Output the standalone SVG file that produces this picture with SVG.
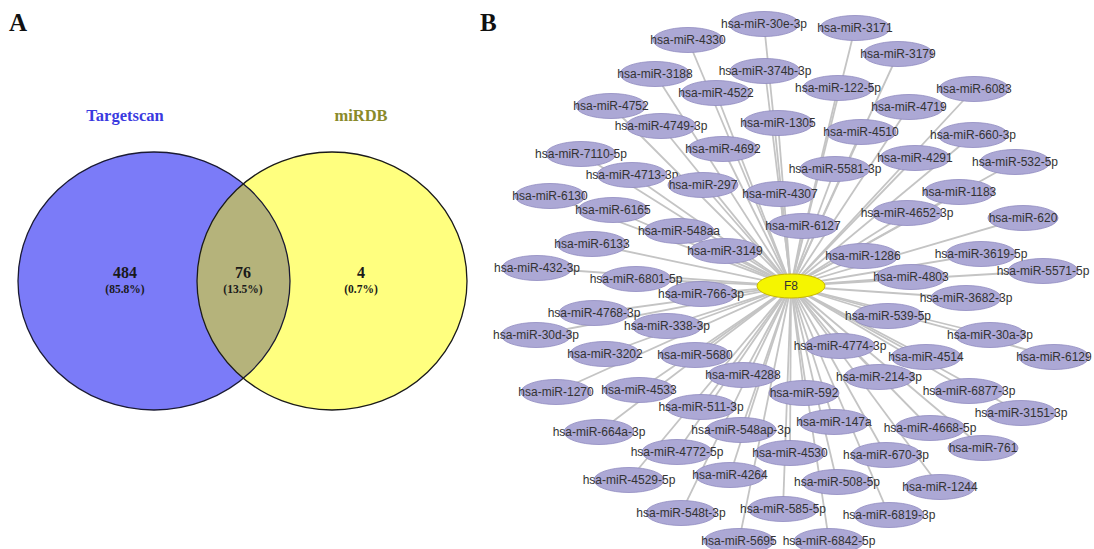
<svg xmlns="http://www.w3.org/2000/svg" width="1094" height="549" viewBox="0 0 1094 549">
<style>
.pl{font-family:"Liberation Serif","Times New Roman",serif;font-weight:bold;font-size:25px;fill:#111}
.vt{font-family:"Liberation Serif","Times New Roman",serif;font-weight:bold;text-anchor:middle}
.num{font-size:16px;fill:#1a1a1a}
.pct{font-size:11.5px;fill:#1a1a1a}
.mi{fill:#aca8d5;stroke:#8e89bf;stroke-width:0.8}
.lb{font-family:"Liberation Sans",Arial,sans-serif;font-size:12px;fill:#333;text-anchor:middle}
.ed line{stroke:#c4c4c4;stroke-width:1.8}
</style>
<defs>
<clipPath id="clipL"><ellipse cx="154" cy="281" rx="136" ry="129"/></clipPath>
</defs>
<rect width="1094" height="549" fill="#fff"/>
<text class="pl" x="9" y="31">A</text>
<text class="pl" x="480" y="31">B</text>
<g id="venn">
<ellipse cx="154" cy="281" rx="136" ry="129" fill="#7b7bf8"/>
<ellipse cx="332" cy="281" rx="135" ry="129" fill="#ffff7f"/>
<ellipse cx="332" cy="281" rx="135" ry="129" fill="#b5b37b" clip-path="url(#clipL)"/>
<ellipse cx="154" cy="281" rx="136" ry="129" fill="none" stroke="#1a1a33" stroke-width="1.3"/>
<ellipse cx="332" cy="281" rx="135" ry="129" fill="none" stroke="#1a1a1a" stroke-width="1.3"/>
<text class="vt" x="125" y="121" font-size="16.5" fill="#3a3ae0">Targetscan</text>
<text class="vt" x="361" y="121" font-size="16.5" fill="#8a8a2a">miRDB</text>
<text class="vt num" x="125" y="278">484</text>
<text class="vt pct" x="125" y="293">(85.8%)</text>
<text class="vt num" x="243" y="278">76</text>
<text class="vt pct" x="243" y="293">(13.5%)</text>
<text class="vt num" x="361" y="278">4</text>
<text class="vt pct" x="361" y="293">(0.7%)</text>
</g>
<g id="connectors" class="ed">
<line x1="791" y1="286" x2="688" y2="40"/>
<line x1="791" y1="286" x2="764" y2="24"/>
<line x1="791" y1="286" x2="855" y2="28"/>
<line x1="791" y1="286" x2="898" y2="54"/>
<line x1="791" y1="286" x2="655" y2="74"/>
<line x1="791" y1="286" x2="765" y2="71"/>
<line x1="791" y1="286" x2="716" y2="93"/>
<line x1="791" y1="286" x2="838" y2="88"/>
<line x1="791" y1="286" x2="974" y2="89"/>
<line x1="791" y1="286" x2="611" y2="106"/>
<line x1="791" y1="286" x2="909" y2="107"/>
<line x1="791" y1="286" x2="661" y2="126"/>
<line x1="791" y1="286" x2="778" y2="123"/>
<line x1="791" y1="286" x2="861" y2="132"/>
<line x1="791" y1="286" x2="973" y2="135"/>
<line x1="791" y1="286" x2="581" y2="154"/>
<line x1="791" y1="286" x2="723" y2="149"/>
<line x1="791" y1="286" x2="915" y2="158"/>
<line x1="791" y1="286" x2="1015" y2="162"/>
<line x1="791" y1="286" x2="632" y2="175"/>
<line x1="791" y1="286" x2="835" y2="169"/>
<line x1="791" y1="286" x2="703" y2="185"/>
<line x1="791" y1="286" x2="780" y2="194"/>
<line x1="791" y1="286" x2="959" y2="192"/>
<line x1="791" y1="286" x2="550" y2="196"/>
<line x1="791" y1="286" x2="613" y2="210"/>
<line x1="791" y1="286" x2="907" y2="213"/>
<line x1="791" y1="286" x2="679" y2="231"/>
<line x1="791" y1="286" x2="803" y2="226"/>
<line x1="791" y1="286" x2="1023" y2="218"/>
<line x1="791" y1="286" x2="592" y2="244"/>
<line x1="791" y1="286" x2="725" y2="251"/>
<line x1="791" y1="286" x2="863" y2="256"/>
<line x1="791" y1="286" x2="981" y2="254"/>
<line x1="791" y1="286" x2="537" y2="268"/>
<line x1="791" y1="286" x2="636" y2="279"/>
<line x1="791" y1="286" x2="911" y2="277"/>
<line x1="791" y1="286" x2="1043" y2="271"/>
<line x1="791" y1="286" x2="701" y2="294"/>
<line x1="791" y1="286" x2="966" y2="298"/>
<line x1="791" y1="286" x2="594" y2="313"/>
<line x1="791" y1="286" x2="888" y2="316"/>
<line x1="791" y1="286" x2="667" y2="326"/>
<line x1="791" y1="286" x2="990" y2="335"/>
<line x1="791" y1="286" x2="536" y2="335"/>
<line x1="791" y1="286" x2="840" y2="346"/>
<line x1="791" y1="286" x2="605" y2="354"/>
<line x1="791" y1="286" x2="695" y2="355"/>
<line x1="791" y1="286" x2="926" y2="357"/>
<line x1="791" y1="286" x2="1054" y2="357"/>
<line x1="791" y1="286" x2="556" y2="392"/>
<line x1="791" y1="286" x2="639" y2="390"/>
<line x1="791" y1="286" x2="743" y2="375"/>
<line x1="791" y1="286" x2="879" y2="377"/>
<line x1="791" y1="286" x2="804" y2="393"/>
<line x1="791" y1="286" x2="969" y2="391"/>
<line x1="791" y1="286" x2="701" y2="407"/>
<line x1="791" y1="286" x2="1021" y2="413"/>
<line x1="791" y1="286" x2="599" y2="432"/>
<line x1="791" y1="286" x2="741" y2="430"/>
<line x1="791" y1="286" x2="834" y2="422"/>
<line x1="791" y1="286" x2="930" y2="428"/>
<line x1="791" y1="286" x2="677" y2="452"/>
<line x1="791" y1="286" x2="790" y2="453"/>
<line x1="791" y1="286" x2="886" y2="455"/>
<line x1="791" y1="286" x2="983" y2="448"/>
<line x1="791" y1="286" x2="629" y2="480"/>
<line x1="791" y1="286" x2="730" y2="475"/>
<line x1="791" y1="286" x2="837" y2="482"/>
<line x1="791" y1="286" x2="940" y2="487"/>
<line x1="791" y1="286" x2="681" y2="513"/>
<line x1="791" y1="286" x2="783" y2="509"/>
<line x1="791" y1="286" x2="889" y2="515"/>
<line x1="791" y1="286" x2="739" y2="541"/>
<line x1="791" y1="286" x2="829" y2="541"/>
</g>
<g id="n4330"><ellipse class="mi" cx="688" cy="40" rx="35" ry="12.5"/><text class="lb" x="688" y="44">hsa-miR-4330</text></g>
<g id="n30e3p"><ellipse class="mi" cx="764" cy="24" rx="35" ry="12.5"/><text class="lb" x="764" y="28">hsa-miR-30e-3p</text></g>
<g id="n3171"><ellipse class="mi" cx="855" cy="28" rx="35" ry="12.5"/><text class="lb" x="855" y="32">hsa-miR-3171</text></g>
<g id="n3179"><ellipse class="mi" cx="898" cy="54" rx="35" ry="12.5"/><text class="lb" x="898" y="58">hsa-miR-3179</text></g>
<g id="n3188"><ellipse class="mi" cx="655" cy="74" rx="35" ry="12.5"/><text class="lb" x="655" y="78">hsa-miR-3188</text></g>
<g id="n374b3p"><ellipse class="mi" cx="765" cy="71" rx="35" ry="12.5"/><text class="lb" x="765" y="75">hsa-miR-374b-3p</text></g>
<g id="n4522"><ellipse class="mi" cx="716" cy="93" rx="35" ry="12.5"/><text class="lb" x="716" y="97">hsa-miR-4522</text></g>
<g id="n1225p"><ellipse class="mi" cx="838" cy="88" rx="35" ry="12.5"/><text class="lb" x="838" y="92">hsa-miR-122-5p</text></g>
<g id="n6083"><ellipse class="mi" cx="974" cy="89" rx="35" ry="12.5"/><text class="lb" x="974" y="93">hsa-miR-6083</text></g>
<g id="n4752"><ellipse class="mi" cx="611" cy="106" rx="35" ry="12.5"/><text class="lb" x="611" y="110">hsa-miR-4752</text></g>
<g id="n4719"><ellipse class="mi" cx="909" cy="107" rx="35" ry="12.5"/><text class="lb" x="909" y="111">hsa-miR-4719</text></g>
<g id="n47493p"><ellipse class="mi" cx="661" cy="126" rx="35" ry="12.5"/><text class="lb" x="661" y="130">hsa-miR-4749-3p</text></g>
<g id="n1305"><ellipse class="mi" cx="778" cy="123" rx="35" ry="12.5"/><text class="lb" x="778" y="127">hsa-miR-1305</text></g>
<g id="n4510"><ellipse class="mi" cx="861" cy="132" rx="35" ry="12.5"/><text class="lb" x="861" y="136">hsa-miR-4510</text></g>
<g id="n6603p"><ellipse class="mi" cx="973" cy="135" rx="35" ry="12.5"/><text class="lb" x="973" y="139">hsa-miR-660-3p</text></g>
<g id="n71105p"><ellipse class="mi" cx="581" cy="154" rx="35" ry="12.5"/><text class="lb" x="581" y="158">hsa-miR-7110-5p</text></g>
<g id="n4692"><ellipse class="mi" cx="723" cy="149" rx="35" ry="12.5"/><text class="lb" x="723" y="153">hsa-miR-4692</text></g>
<g id="n4291"><ellipse class="mi" cx="915" cy="158" rx="35" ry="12.5"/><text class="lb" x="915" y="162">hsa-miR-4291</text></g>
<g id="n5325p"><ellipse class="mi" cx="1015" cy="162" rx="35" ry="12.5"/><text class="lb" x="1015" y="166">hsa-miR-532-5p</text></g>
<g id="n47133p"><ellipse class="mi" cx="632" cy="175" rx="35" ry="12.5"/><text class="lb" x="632" y="179">hsa-miR-4713-3p</text></g>
<g id="n55813p"><ellipse class="mi" cx="835" cy="169" rx="35" ry="12.5"/><text class="lb" x="835" y="173">hsa-miR-5581-3p</text></g>
<g id="n297"><ellipse class="mi" cx="703" cy="185" rx="35" ry="12.5"/><text class="lb" x="703" y="189">hsa-miR-297</text></g>
<g id="n4307"><ellipse class="mi" cx="780" cy="194" rx="35" ry="12.5"/><text class="lb" x="780" y="198">hsa-miR-4307</text></g>
<g id="n1183"><ellipse class="mi" cx="959" cy="192" rx="35" ry="12.5"/><text class="lb" x="959" y="196">hsa-miR-1183</text></g>
<g id="n6130"><ellipse class="mi" cx="550" cy="196" rx="35" ry="12.5"/><text class="lb" x="550" y="200">hsa-miR-6130</text></g>
<g id="n6165"><ellipse class="mi" cx="613" cy="210" rx="35" ry="12.5"/><text class="lb" x="613" y="214">hsa-miR-6165</text></g>
<g id="n46523p"><ellipse class="mi" cx="907" cy="213" rx="35" ry="12.5"/><text class="lb" x="907" y="217">hsa-miR-4652-3p</text></g>
<g id="n548aa"><ellipse class="mi" cx="679" cy="231" rx="35" ry="12.5"/><text class="lb" x="679" y="235">hsa-miR-548aa</text></g>
<g id="n6127"><ellipse class="mi" cx="803" cy="226" rx="35" ry="12.5"/><text class="lb" x="803" y="230">hsa-miR-6127</text></g>
<g id="n620"><ellipse class="mi" cx="1023" cy="218" rx="35" ry="12.5"/><text class="lb" x="1023" y="222">hsa-miR-620</text></g>
<g id="n6133"><ellipse class="mi" cx="592" cy="244" rx="35" ry="12.5"/><text class="lb" x="592" y="248">hsa-miR-6133</text></g>
<g id="n3149"><ellipse class="mi" cx="725" cy="251" rx="35" ry="12.5"/><text class="lb" x="725" y="255">hsa-miR-3149</text></g>
<g id="n1286"><ellipse class="mi" cx="863" cy="256" rx="35" ry="12.5"/><text class="lb" x="863" y="260">hsa-miR-1286</text></g>
<g id="n36195p"><ellipse class="mi" cx="981" cy="254" rx="35" ry="12.5"/><text class="lb" x="981" y="258">hsa-miR-3619-5p</text></g>
<g id="n4323p"><ellipse class="mi" cx="537" cy="268" rx="35" ry="12.5"/><text class="lb" x="537" y="272">hsa-miR-432-3p</text></g>
<g id="n68015p"><ellipse class="mi" cx="636" cy="279" rx="35" ry="12.5"/><text class="lb" x="636" y="283">hsa-miR-6801-5p</text></g>
<g id="n4803"><ellipse class="mi" cx="911" cy="277" rx="35" ry="12.5"/><text class="lb" x="911" y="281">hsa-miR-4803</text></g>
<g id="n55715p"><ellipse class="mi" cx="1043" cy="271" rx="35" ry="12.5"/><text class="lb" x="1043" y="275">hsa-miR-5571-5p</text></g>
<g id="n7663p"><ellipse class="mi" cx="701" cy="294" rx="35" ry="12.5"/><text class="lb" x="701" y="298">hsa-miR-766-3p</text></g>
<g id="n36823p"><ellipse class="mi" cx="966" cy="298" rx="35" ry="12.5"/><text class="lb" x="966" y="302">hsa-miR-3682-3p</text></g>
<g id="n47683p"><ellipse class="mi" cx="594" cy="313" rx="35" ry="12.5"/><text class="lb" x="594" y="317">hsa-miR-4768-3p</text></g>
<g id="n5395p"><ellipse class="mi" cx="888" cy="316" rx="35" ry="12.5"/><text class="lb" x="888" y="320">hsa-miR-539-5p</text></g>
<g id="n3383p"><ellipse class="mi" cx="667" cy="326" rx="35" ry="12.5"/><text class="lb" x="667" y="330">hsa-miR-338-3p</text></g>
<g id="n30a3p"><ellipse class="mi" cx="990" cy="335" rx="35" ry="12.5"/><text class="lb" x="990" y="339">hsa-miR-30a-3p</text></g>
<g id="n30d3p"><ellipse class="mi" cx="536" cy="335" rx="35" ry="12.5"/><text class="lb" x="536" y="339">hsa-miR-30d-3p</text></g>
<g id="n47743p"><ellipse class="mi" cx="840" cy="346" rx="35" ry="12.5"/><text class="lb" x="840" y="350">hsa-miR-4774-3p</text></g>
<g id="n3202"><ellipse class="mi" cx="605" cy="354" rx="35" ry="12.5"/><text class="lb" x="605" y="358">hsa-miR-3202</text></g>
<g id="n5680"><ellipse class="mi" cx="695" cy="355" rx="35" ry="12.5"/><text class="lb" x="695" y="359">hsa-miR-5680</text></g>
<g id="n4514"><ellipse class="mi" cx="926" cy="357" rx="35" ry="12.5"/><text class="lb" x="926" y="361">hsa-miR-4514</text></g>
<g id="n6129"><ellipse class="mi" cx="1054" cy="357" rx="35" ry="12.5"/><text class="lb" x="1054" y="361">hsa-miR-6129</text></g>
<g id="n1270"><ellipse class="mi" cx="556" cy="392" rx="35" ry="12.5"/><text class="lb" x="556" y="396">hsa-miR-1270</text></g>
<g id="n4533"><ellipse class="mi" cx="639" cy="390" rx="35" ry="12.5"/><text class="lb" x="639" y="394">hsa-miR-4533</text></g>
<g id="n4288"><ellipse class="mi" cx="743" cy="375" rx="35" ry="12.5"/><text class="lb" x="743" y="379">hsa-miR-4288</text></g>
<g id="n2143p"><ellipse class="mi" cx="879" cy="377" rx="35" ry="12.5"/><text class="lb" x="879" y="381">hsa-miR-214-3p</text></g>
<g id="n592"><ellipse class="mi" cx="804" cy="393" rx="35" ry="12.5"/><text class="lb" x="804" y="397">hsa-miR-592</text></g>
<g id="n68773p"><ellipse class="mi" cx="969" cy="391" rx="35" ry="12.5"/><text class="lb" x="969" y="395">hsa-miR-6877-3p</text></g>
<g id="n5113p"><ellipse class="mi" cx="701" cy="407" rx="35" ry="12.5"/><text class="lb" x="701" y="411">hsa-miR-511-3p</text></g>
<g id="n31513p"><ellipse class="mi" cx="1021" cy="413" rx="35" ry="12.5"/><text class="lb" x="1021" y="417">hsa-miR-3151-3p</text></g>
<g id="n664a3p"><ellipse class="mi" cx="599" cy="432" rx="35" ry="12.5"/><text class="lb" x="599" y="436">hsa-miR-664a-3p</text></g>
<g id="n548ap3p"><ellipse class="mi" cx="741" cy="430" rx="35" ry="12.5"/><text class="lb" x="741" y="434">hsa-miR-548ap-3p</text></g>
<g id="n147a"><ellipse class="mi" cx="834" cy="422" rx="35" ry="12.5"/><text class="lb" x="834" y="426">hsa-miR-147a</text></g>
<g id="n46685p"><ellipse class="mi" cx="930" cy="428" rx="35" ry="12.5"/><text class="lb" x="930" y="432">hsa-miR-4668-5p</text></g>
<g id="n47725p"><ellipse class="mi" cx="677" cy="452" rx="35" ry="12.5"/><text class="lb" x="677" y="456">hsa-miR-4772-5p</text></g>
<g id="n4530"><ellipse class="mi" cx="790" cy="453" rx="35" ry="12.5"/><text class="lb" x="790" y="457">hsa-miR-4530</text></g>
<g id="n6703p"><ellipse class="mi" cx="886" cy="455" rx="35" ry="12.5"/><text class="lb" x="886" y="459">hsa-miR-670-3p</text></g>
<g id="n761"><ellipse class="mi" cx="983" cy="448" rx="35" ry="12.5"/><text class="lb" x="983" y="452">hsa-miR-761</text></g>
<g id="n45295p"><ellipse class="mi" cx="629" cy="480" rx="35" ry="12.5"/><text class="lb" x="629" y="484">hsa-miR-4529-5p</text></g>
<g id="n4264"><ellipse class="mi" cx="730" cy="475" rx="35" ry="12.5"/><text class="lb" x="730" y="479">hsa-miR-4264</text></g>
<g id="n5085p"><ellipse class="mi" cx="837" cy="482" rx="35" ry="12.5"/><text class="lb" x="837" y="486">hsa-miR-508-5p</text></g>
<g id="n1244"><ellipse class="mi" cx="940" cy="487" rx="35" ry="12.5"/><text class="lb" x="940" y="491">hsa-miR-1244</text></g>
<g id="n548t3p"><ellipse class="mi" cx="681" cy="513" rx="35" ry="12.5"/><text class="lb" x="681" y="517">hsa-miR-548t-3p</text></g>
<g id="n5855p"><ellipse class="mi" cx="783" cy="509" rx="35" ry="12.5"/><text class="lb" x="783" y="513">hsa-miR-585-5p</text></g>
<g id="n68193p"><ellipse class="mi" cx="889" cy="515" rx="35" ry="12.5"/><text class="lb" x="889" y="519">hsa-miR-6819-3p</text></g>
<g id="n5695"><ellipse class="mi" cx="739" cy="541" rx="35" ry="12.5"/><text class="lb" x="739" y="545">hsa-miR-5695</text></g>
<g id="n68425p"><ellipse class="mi" cx="829" cy="541" rx="35" ry="12.5"/><text class="lb" x="829" y="545">hsa-miR-6842-5p</text></g>
<g id="nF8"><ellipse cx="791" cy="286" rx="34" ry="12" fill="#f5f500" stroke="#c9b800" stroke-width="1"/><text class="lb" x="791" y="290">F8</text></g>
</svg>
